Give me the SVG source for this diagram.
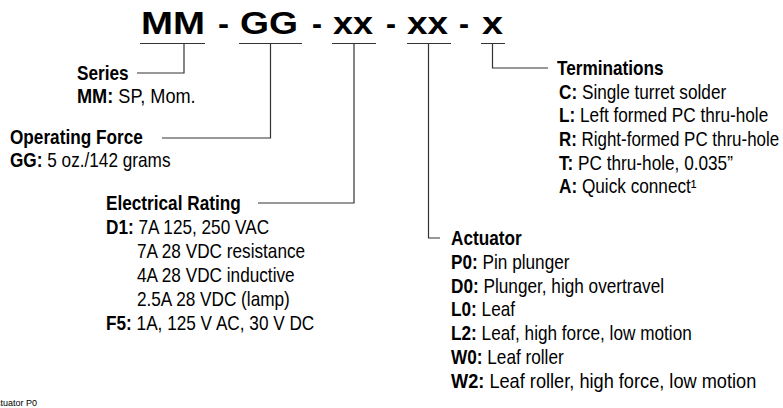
<svg xmlns="http://www.w3.org/2000/svg" width="783" height="408" viewBox="0 0 783 408">
<style>
text{font-family:"Liberation Sans",Arial,sans-serif;fill:#000}
.t{font-size:32px;font-weight:bold}
.b text{font-size:20px}
.h{font-weight:bold}
.f{font-size:9px}
.c{fill:none;stroke:#333;stroke-width:1.2}
</style>
<rect width="783" height="408" fill="#fff"/>
<g id="title">
<text class="t" x="141" y="34" textLength="64" lengthAdjust="spacingAndGlyphs">MM</text>
<text class="t" x="218" y="34" textLength="11" lengthAdjust="spacingAndGlyphs">-</text>
<text class="t" x="240" y="34" textLength="58" lengthAdjust="spacingAndGlyphs">GG</text>
<text class="t" x="312" y="34" textLength="10" lengthAdjust="spacingAndGlyphs">-</text>
<text class="t" x="333" y="34" textLength="40" lengthAdjust="spacingAndGlyphs">xx</text>
<text class="t" x="386" y="34" textLength="10" lengthAdjust="spacingAndGlyphs">-</text>
<text class="t" x="407" y="34" textLength="41" lengthAdjust="spacingAndGlyphs">xx</text>
<text class="t" x="459" y="34" textLength="10" lengthAdjust="spacingAndGlyphs">-</text>
<text class="t" x="482" y="34" textLength="21" lengthAdjust="spacingAndGlyphs">x</text>
</g>
<g id="connectors">
<path class="c" d="M140 43.5H205M239 43.5H302M332 43.5H376M407 43.5H451M481 43.5H505"/>
<path class="c" d="M184 43.5V73H137"/>
<path class="c" d="M270.5 43.5V138H162"/>
<path class="c" d="M354 43.5V203H258"/>
<path class="c" d="M428.5 43.5V238H440"/>
<path class="c" d="M492.5 43.5V68H548"/>
</g>
<g id="series" class="b" transform="translate(77 0) scale(0.86 1)">
<text x="0" y="80"><tspan class="h">Series</tspan></text>
<text x="0" y="103" textLength="138" lengthAdjust="spacingAndGlyphs"><tspan class="h">MM:</tspan> SP, Mom.</text>
</g>
<g id="operating-force" class="b" transform="translate(10 0) scale(0.86 1)">
<text x="0" y="144"><tspan class="h">Operating Force</tspan></text>
<text x="0" y="167"><tspan class="h">GG:</tspan> 5 oz./142 grams</text>
</g>
<g id="electrical-rating" class="b" transform="translate(106 0) scale(0.86 1)">
<text x="0" y="210"><tspan class="h">Electrical Rating</tspan></text>
<text x="0" y="234"><tspan class="h">D1:</tspan> 7A 125, 250 VAC</text>
<text x="36" y="258">7A 28 VDC resistance</text>
<text x="36" y="282">4A 28 VDC inductive</text>
<text x="36" y="306">2.5A 28 VDC (lamp)</text>
<text x="0" y="330"><tspan class="h">F5:</tspan> 1A, 125 V AC, 30 V DC</text>
</g>
<g id="terminations" class="b" transform="translate(559 0) scale(0.86 1)">
<text x="-2.3" y="75"><tspan class="h">Terminations</tspan></text>
<text x="0" y="98.7"><tspan class="h">C:</tspan> Single turret solder</text>
<text x="0" y="122.4"><tspan class="h">L:</tspan> Left formed PC thru-hole</text>
<text x="0" y="146.1" textLength="256" lengthAdjust="spacingAndGlyphs"><tspan class="h">R:</tspan> Right-formed PC thru-hole</text>
<text x="0" y="169.8"><tspan class="h">T:</tspan> PC thru-hole, 0.035”</text>
<text x="0" y="193.5"><tspan class="h">A:</tspan> Quick connect¹</text>
</g>
<g id="actuator" class="b" transform="translate(451 0) scale(0.86 1)">
<text x="0" y="245"><tspan class="h">Actuator</tspan></text>
<text x="0" y="268.8"><tspan class="h">P0:</tspan> Pin plunger</text>
<text x="0" y="292.6"><tspan class="h">D0:</tspan> Plunger, high overtravel</text>
<text x="0" y="316.4"><tspan class="h">L0:</tspan> Leaf</text>
<text x="0" y="340.2"><tspan class="h">L2:</tspan> Leaf, high force, low motion</text>
<text x="0" y="364"><tspan class="h">W0:</tspan> Leaf roller</text>
<text x="0" y="387.8" textLength="355" lengthAdjust="spacingAndGlyphs"><tspan class="h">W2:</tspan> Leaf roller, high force, low motion</text>
</g>
<g id="footer">
<text class="f" x="-10" y="406">Actuator P0</text>
</g>
</svg>
